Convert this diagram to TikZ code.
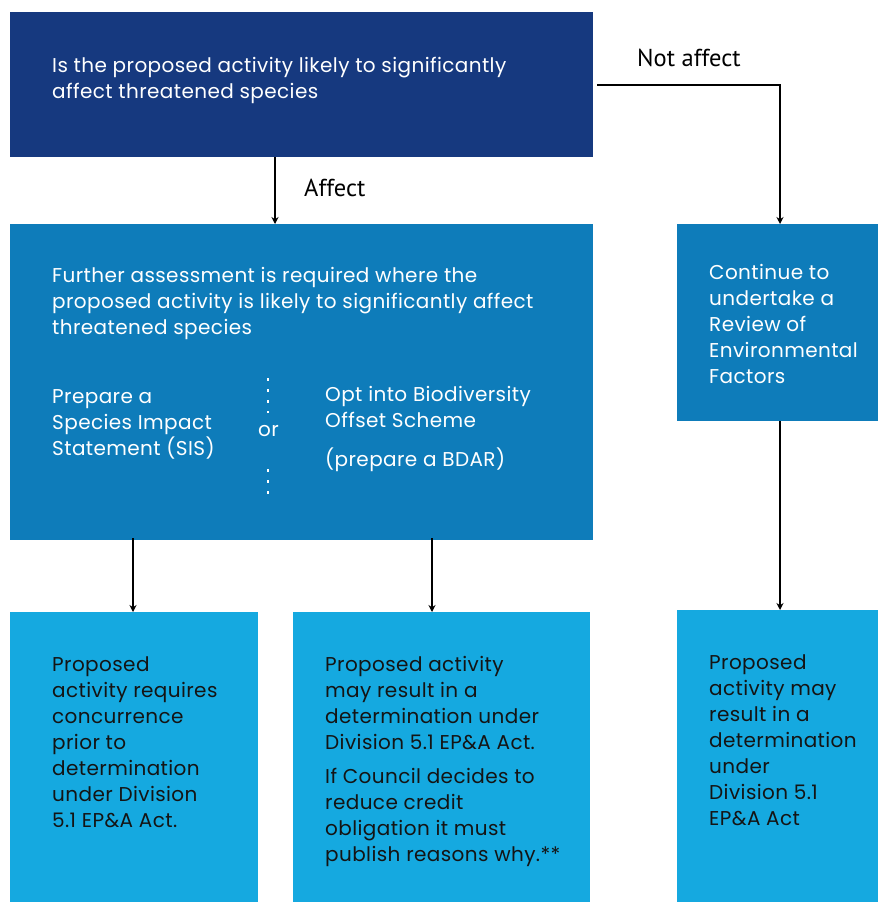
\documentclass[tikz,border=0pt]{standalone}
\usepackage{fontspec}
\setmainfont{Poppins}[LetterSpace=2]
\newfontfamily\labelfont{PT Sans}
\usetikzlibrary{arrows.meta}
\definecolor{navybox}{RGB}{22,57,127}
\definecolor{midbox}{RGB}{14,124,186}
\definecolor{lightbox}{RGB}{21,169,224}
\definecolor{darktext}{RGB}{20,20,20}
\tikzset{
  boxshape/.style={draw=none, inner sep=0, outer sep=0, anchor=north west},
  wtext/.style={anchor=north west, inner sep=0, align=left, text=white, font=\fontsize{20}{26}\selectfont},
  btext/.style={anchor=north west, inner sep=0, align=left, text=darktext, font=\fontsize{20}{26}\selectfont},
  conn/.style={draw=black, line width=1.6pt, -{Stealth[length=7pt,width=7pt]}},
  lbl/.style={inner sep=0, font=\labelfont\fontsize{24.5}{26}\selectfont, text=black},
  dots/.style={draw=white, line width=2.2pt, dash pattern=on 2.5pt off 8.5pt}
}
\begin{document}
\begin{tikzpicture}[x=1pt,y=-1pt]
\useasboundingbox (0,0) rectangle (878,902);
% boxes
\node[boxshape, fill=navybox, minimum width=583pt, minimum height=145pt] (top) at (10,12) {};
\node[boxshape, fill=midbox, minimum width=583pt, minimum height=316pt] (mid) at (10,224) {};
\node[boxshape, fill=midbox, minimum width=201pt, minimum height=197pt] (rev) at (677,224) {};
\node[boxshape, fill=lightbox, minimum width=248pt, minimum height=290pt] (bl) at (10,612) {};
\node[boxshape, fill=lightbox, minimum width=297pt, minimum height=290pt] (bm) at (293,612) {};
\node[boxshape, fill=lightbox, minimum width=201pt, minimum height=292pt] (br) at (677,610) {};
% texts
\node[wtext] (ttop) at (52,57) {Is the proposed activity likely to significantly\\affect threatened species};
\node[wtext] (tmid) at (52,267) {Further assessment is required where the\\proposed activity is likely to significantly affect\\threatened species};
\node[wtext] (tsis) at (52,389) {Prepare a\\Species Impact\\Statement (SIS)};
\node[wtext] (tor) at (258,425) {or};
\node[wtext] (tbos) at (325,386) {Opt into Biodiversity\\Offset Scheme};
\node[wtext] (tbdar) at (325,448) {(prepare a BDAR)};
\node[wtext] (trev) at (709,264) {Continue to\\undertake a\\Review of\\Environmental\\Factors};
\node[btext] (tbl) at (52,656) {Proposed\\activity requires\\concurrence\\prior to\\determination\\under Division\\5.1 EP\&A Act.};
\node[btext] (tbm1) at (325,656) {Proposed activity\\may result in a\\determination under\\Division 5.1 EP\&A Act.};
\node[btext] (tbm2) at (325,768) {If Council decides to\\reduce credit\\obligation it must\\publish reasons why.**};
\node[btext] (tbr) at (709,654) {Proposed\\activity may\\result in a\\determination\\under\\Division 5.1\\EP\&A Act};
% dotted separators
\coordinate (d1a) at (268,378);
\coordinate (d1b) at (268,413);
\coordinate (d2a) at (268,469);
\coordinate (d2b) at (268,498);
\draw[dots] (d1a) -- (d1b);
\draw[dots] (d2a) -- (d2b);
% connectors
\draw[conn] (top.south -| 275,0) -- (mid.north -| 275,0);
\node[lbl, anchor=west] (laff) at (304,188) {Affect};
\coordinate (turn) at (780,85);
\draw[conn] (top.east |- turn) ++(4,0) -- (turn) -- (rev.north -| turn);
\node[lbl, anchor=west] (lnot) at (637,58) {Not affect};
\draw[conn] ([yshift=2pt]mid.south -| 133,0) -- (bl.north -| 133,0);
\draw[conn] ([yshift=2pt]mid.south -| 432,0) -- (bm.north -| 432,0);
\draw[conn] (rev.south -| turn) -- (br.north -| turn);
\end{tikzpicture}
\end{document}
